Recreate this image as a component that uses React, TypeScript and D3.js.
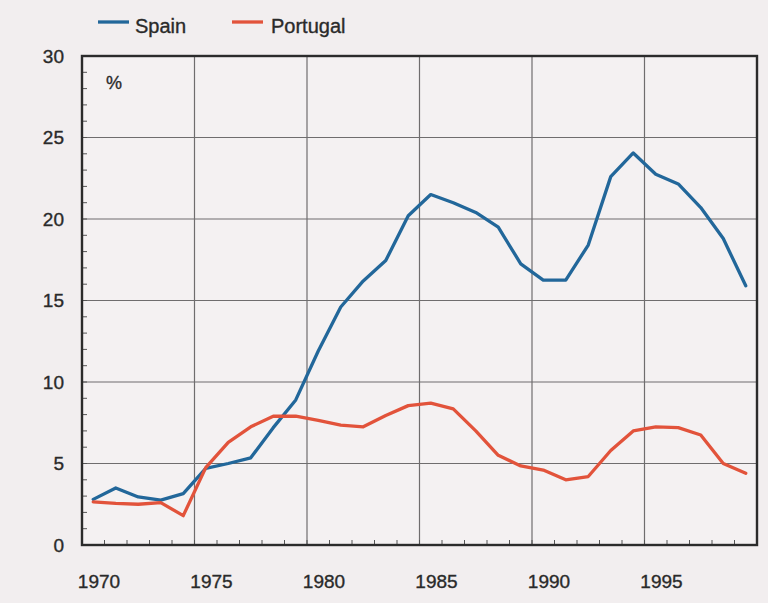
import React from "react";
import * as d3 from "d3";

// unemployment rate, %, one value per year
const years = [
  1970, 1971, 1972, 1973, 1974, 1975, 1976, 1977, 1978, 1979,
  1980, 1981, 1982, 1983, 1984, 1985, 1986, 1987, 1988, 1989,
  1990, 1991, 1992, 1993, 1994, 1995, 1996, 1997, 1998, 1999,
];
const spain = [
  2.8, 3.5, 2.95, 2.75, 3.15, 4.7, 5.0, 5.35, 7.2, 8.9,
  11.9, 14.6, 16.2, 17.45, 20.2, 21.5, 21.0, 20.4, 19.5, 17.25,
  16.25, 16.25, 18.4, 22.6, 24.05, 22.75, 22.15, 20.7, 18.8, 15.9,
];
const portugal = [
  2.65, 2.55, 2.5, 2.6, 1.8, 4.75, 6.3, 7.25, 7.9, 7.9,
  7.65, 7.35, 7.25, 7.95, 8.55, 8.7, 8.35, 7.0, 5.5, 4.85,
  4.6, 4.0, 4.2, 5.8, 7.0, 7.25, 7.2, 6.75, 5.0, 4.4,
];
const xLabels = [1970, 1975, 1980, 1985, 1990, 1995];
const yLabels = [0, 5, 10, 15, 20, 25, 30];

const series = [
  { name: "Spain", values: spain, color: "#22679a" },
  { name: "Portugal", values: portugal, color: "#e2533b" },
];

const W = 768;
const H = 603;
const left = 82, right = 757, top = 56, bottom = 545;
const font = "'Liberation Sans', Arial, sans-serif";
const textColor = "#2a2a2a";

export default function App() {
  const x = d3.scaleLinear().domain([1970, 2000]).range([left, right]);
  const y = d3.scaleLinear().domain([0, 30]).range([bottom, top]);

  const line = d3
    .line<number>()
    .x((_, i) => x(years[i] + 0.5))
    .y((d) => y(d));

  const minorX = d3.range(1971, 2000);
  const minorY = d3.range(1, 30);

  return (
    <svg
      width={W}
      height={H}
      style={{ position: "absolute", left: 0, top: 0, background: "#f2eeef" }}
    >
      <rect x={0} y={0} width={W} height={H} fill="#f2eeef" />
      <rect x={left} y={top} width={right - left} height={bottom - top} fill="#f4f1f2" />

      {/* gridlines */}
      {xLabels.slice(1).map((t) => (
        <line key={"gx" + t} x1={x(t)} x2={x(t)} y1={top} y2={bottom} stroke="#6f6d6e" strokeWidth={1.2} />
      ))}
      {yLabels.slice(1, -1).map((t) => (
        <line key={"gy" + t} x1={left} x2={right} y1={y(t)} y2={y(t)} stroke="#6f6d6e" strokeWidth={1.2} />
      ))}

      {/* inward minor ticks */}
      {minorX.map((t) => (
        <line key={"tx" + t} x1={x(t)} x2={x(t)} y1={bottom} y2={bottom - 5} stroke="#555" strokeWidth={1} />
      ))}
      {minorY.map((t) => (
        <line key={"ty" + t} x1={left} x2={left + 5} y1={y(t)} y2={y(t)} stroke="#555" strokeWidth={1} />
      ))}

      {/* data lines */}
      {series.map((s) => (
        <path
          key={s.name}
          d={line(s.values) || ""}
          fill="none"
          stroke={s.color}
          strokeWidth={3.3}
          strokeLinejoin="round"
          strokeLinecap="round"
        />
      ))}

      {/* frame */}
      <rect
        x={left}
        y={top}
        width={right - left}
        height={bottom - top}
        fill="none"
        stroke="#2b2b2b"
        strokeWidth={2.4}
      />

      {/* axis labels */}
      <g fontFamily={font} fill={textColor} stroke={textColor} strokeWidth={0.35}>
        {yLabels.map((t) => (
          <text key={"ly" + t} x={64} y={y(t)} textAnchor="end" dominantBaseline="central" fontSize={19}>
            {t}
          </text>
        ))}
        {xLabels.map((t) => (
          <text key={"lx" + t} x={x(t) + 17} y={581} textAnchor="middle" dominantBaseline="central" fontSize={19}>
            {t}
          </text>
        ))}
        <text x={114} y={83} textAnchor="middle" dominantBaseline="central" fontSize={18}>
          %
        </text>
      </g>

      {/* legend */}
      <g fontFamily={font} fontSize={20} fill={textColor}>
        <line x1={98} x2={129} y1={22} y2={22} stroke={series[0].color} strokeWidth={3.3} />
        <text x={135} y={26} dominantBaseline="central" stroke={textColor} strokeWidth={0.35}>
          {series[0].name}
        </text>
        <line x1={232} x2={263} y1={22} y2={22} stroke={series[1].color} strokeWidth={3.3} />
        <text x={271} y={26} dominantBaseline="central" stroke={textColor} strokeWidth={0.35}>
          {series[1].name}
        </text>
      </g>
    </svg>
  );
}
